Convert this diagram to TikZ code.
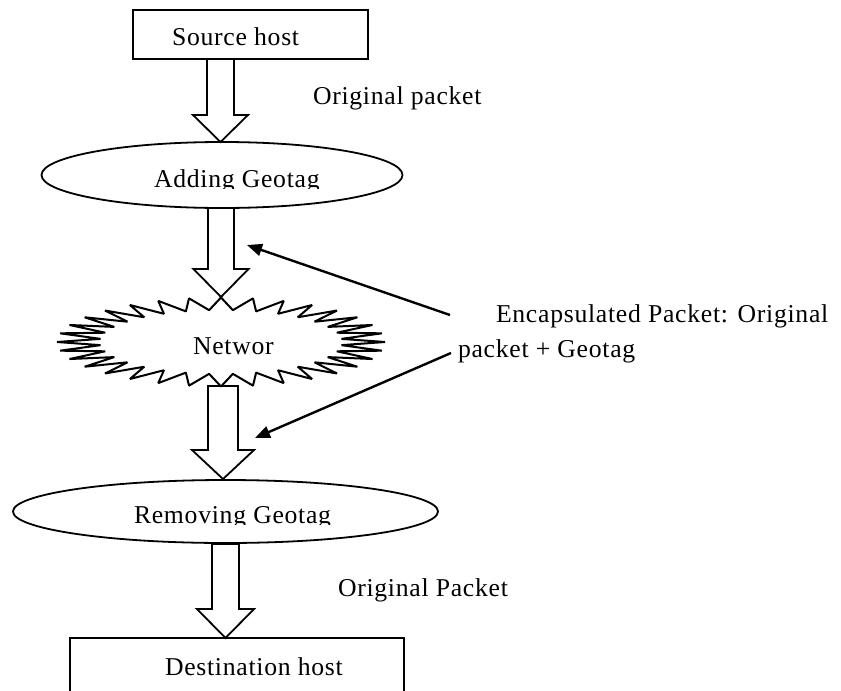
\documentclass[tikz,border=0pt]{standalone}
\usepackage{fontspec}
\setmainfont{Liberation Serif}[LetterSpace=2.8]
\usetikzlibrary{arrows.meta,calc,shapes.geometric}
\newcommand\blockarrow[5]{%
  \draw[blockarr] let \p1=(#1), \p2=(#2) in
   (\x1-#3pt,\y1) -- (\x1-#3pt,\y2+#5pt) -- (\x1-#4pt,\y2+#5pt) -- (\x2,\y2)
   -- (\x1+#4pt,\y2+#5pt) -- (\x1+#3pt,\y2+#5pt) -- (\x1+#3pt,\y1) -- cycle;}
\begin{document}
\begin{tikzpicture}[x=1pt,y=-1pt,
  every node/.style={font=\fontsize{25.7}{30}\selectfont, inner sep=0pt, outer sep=0pt},
  lbl/.style={anchor=base west},
  boxshape/.style={draw, line width=1.8pt, rectangle},
  ellshape/.style={draw, line width=1.8pt, ellipse},
  blockarr/.style={draw, line width=1.8pt, line join=miter},
  ptr/.style={line width=2.4pt, -{Triangle[length=15pt,width=12pt]}},
  burst/.style={draw, line width=2pt, line join=bevel}]
\useasboundingbox (0,0) rectangle (841,691);

% nodes
\node[boxshape, minimum width=235pt, minimum height=49pt] (src) at (250.5,34.5) {};
\node[lbl] (srct) at (172,45) {Source host};

\node[ellshape, minimum width=361pt, minimum height=66pt] (add) at (222,175) {};
\begin{scope}
  \clip (0,0) rectangle (841,188);
  \node[lbl] (addt) at (154,187) {Adding Geotag};
\end{scope}

\coordinate (net) at (221,342);
\draw[burst] plot[samples at={0,...,63}, variable=\k]
  ({221+ifthenelse(mod(\k,2)==0,164,121)*cos(90+\k*5.625)},
   {342-ifthenelse(mod(\k,2)==0,44.5,32)*sin(90+\k*5.625)}) -- cycle;
\node[lbl] (nett) at (193,354) {Networ};

\node[ellshape, minimum width=425pt, minimum height=63pt] (rem) at (225.5,511.5) {};
\begin{scope}
  \clip (0,0) rectangle (841,524);
  \node[lbl] (remt) at (134,523) {Removing Geotag};
\end{scope}

\node[boxshape, minimum width=334pt, minimum height=100pt, anchor=north] (dst) at (237,638) {};
\node[lbl] (dstt) at (165,675) {Destination host};

% labels
\node[lbl] (op1) at (313,104) {Original packet};
\node[lbl] (op2) at (338,596) {Original Packet};
\node[lbl] (enc1) at (496,322) {Encapsulated Packet: Original};
\node[lbl] (enc2) at (458,357) {packet + Geotag};

% block arrows
\coordinate (a1s) at (220.5,59);  \coordinate (a1e) at (220.5,142);
\coordinate (a2s) at (221,208);   \coordinate (a2e) at (221,297);
\coordinate (a3s) at (223,386);   \coordinate (a3e) at (223,479);
\coordinate (a4s) at (225.5,544); \coordinate (a4e) at (225.5,638);
\blockarrow{a1s}{a1e}{13.5}{27.5}{27}
\blockarrow{a2s}{a2e}{13}{27.5}{28}
\blockarrow{a3s}{a3e}{15}{31}{29}
\blockarrow{a4s}{a4e}{13.5}{28.5}{29}

% pointer arrows
\coordinate (c1) at (450,315); \coordinate (t1) at (247,245);
\coordinate (c2) at (451,353); \coordinate (t2) at (255,438);
\draw[ptr] (c1) -- (t1);
\draw[ptr] (c2) -- (t2);
\end{tikzpicture}
\end{document}
